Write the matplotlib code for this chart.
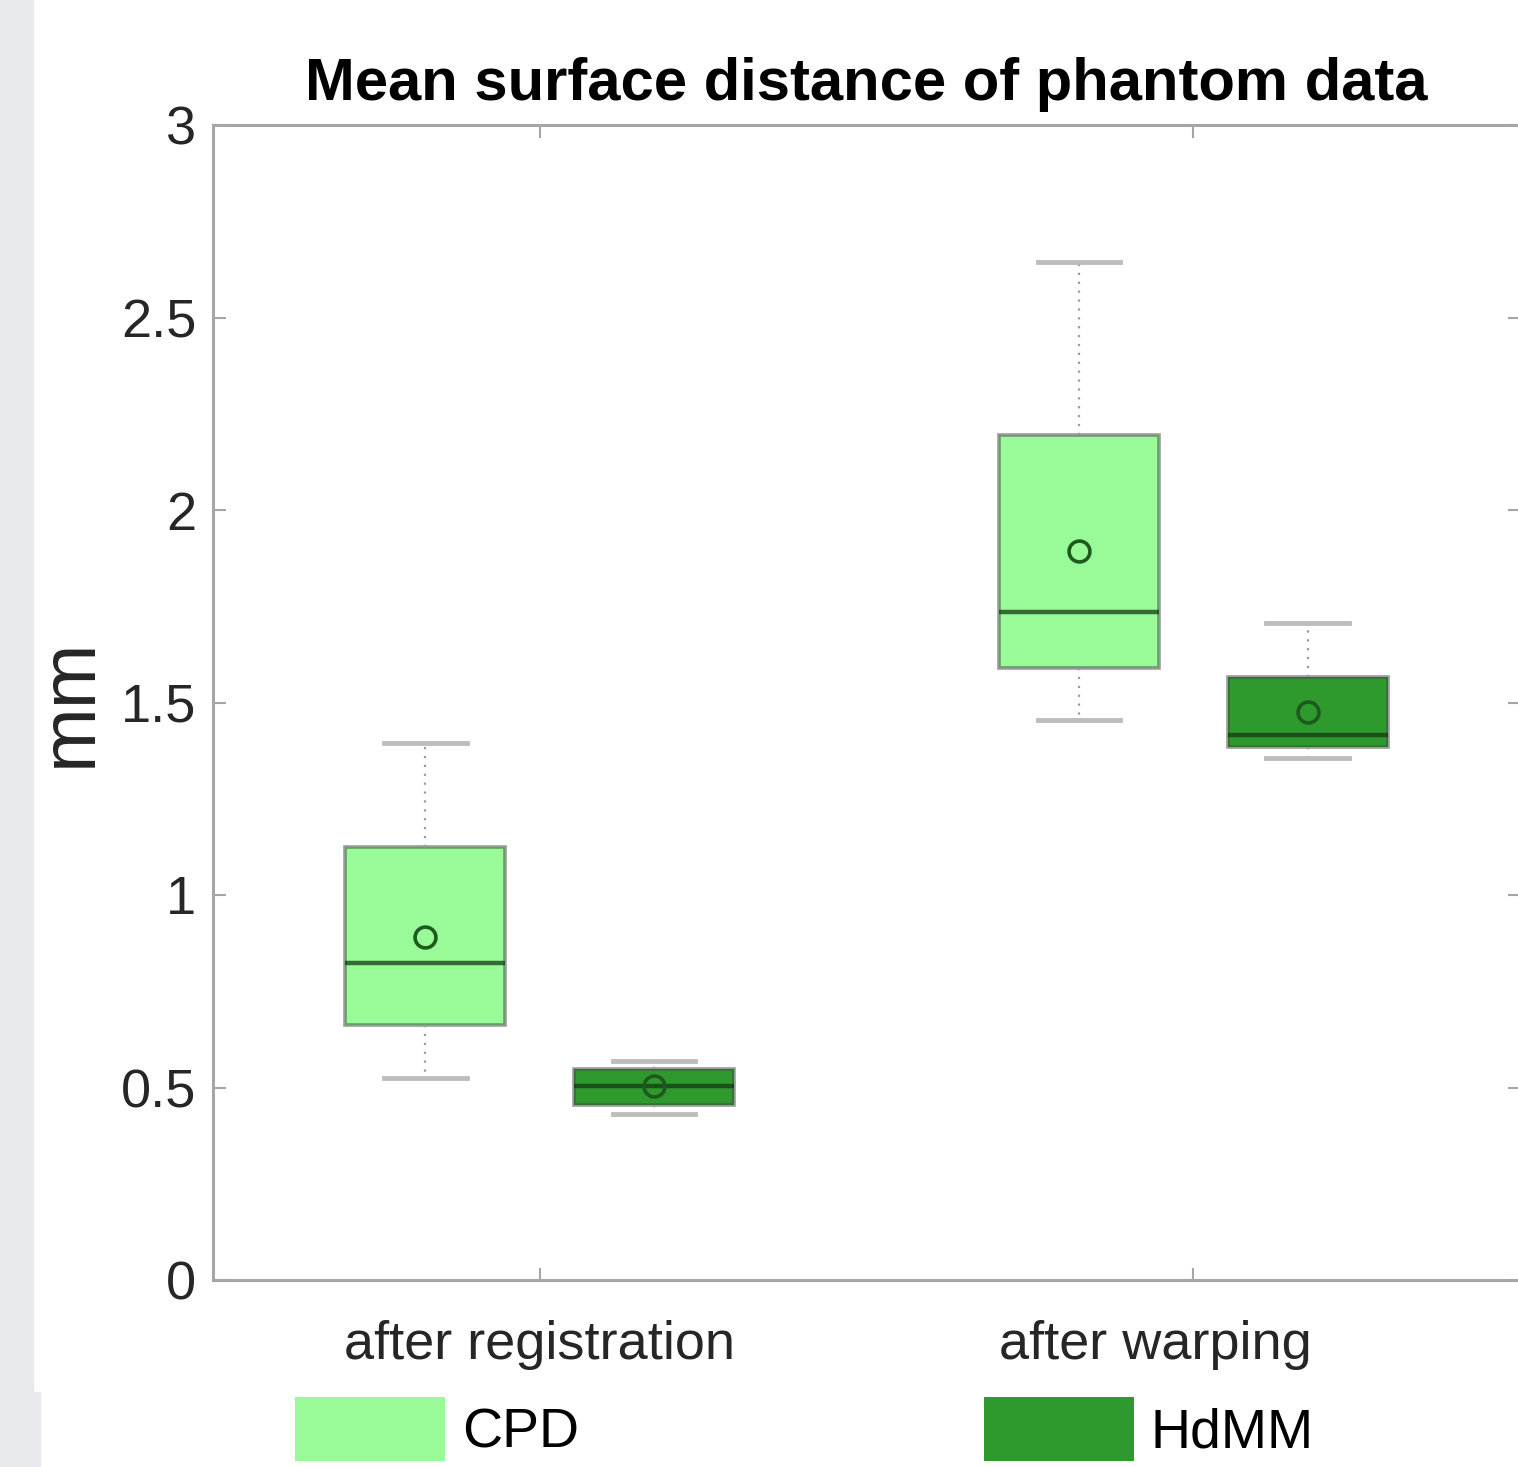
import matplotlib
matplotlib.use("Agg")
import matplotlib.pyplot as plt
from matplotlib.patches import Patch, Rectangle
from matplotlib.transforms import ScaledTranslation
import numpy as np

# summary statistics (mm)
groups = ["after registration", "after warping"]
methods = ["CPD", "HdMM"]
colors = ["#98fb98", "#2e9a2e"]

whislo = {"CPD": [0.525, 1.455], "HdMM": [0.430, 1.356]}
q1 = {"CPD": [0.662, 1.590], "HdMM": [0.455, 1.384]}
med = {"CPD": [0.823, 1.735], "HdMM": [0.504, 1.416]}
q3 = {"CPD": [1.125, 2.195], "HdMM": [0.548, 1.566]}
whishi = {"CPD": [1.395, 2.644], "HdMM": [0.569, 1.706]}
means = {"CPD": [0.891, 1.894], "HdMM": [0.504, 1.475]}

plt.rcParams["font.family"] = ["Liberation Sans", "DejaVu Sans"]

fig = plt.figure(figsize=(15.18, 14.67), dpi=100)
# grey page strip on the left
fig.patches.append(Rectangle((0, 0), 33 / 1518, 1, transform=fig.transFigure,
                             color="#e8eaed", zorder=-10))
fig.patches.append(Rectangle((0, 0), 40 / 1518, 75 / 1467, transform=fig.transFigure,
                             color="#e8eaed", zorder=-10))

ax = fig.add_axes([213 / 1518, 187 / 1467, 1307 / 1518, 1155 / 1467])

offsets = [-0.175, 0.175]
for m, off, c in zip(methods, offsets, colors):
    stats = []
    for i in range(len(groups)):
        stats.append(dict(med=med[m][i], q1=q1[m][i], q3=q3[m][i],
                          whislo=whislo[m][i], whishi=whishi[m][i],
                          mean=means[m][i], fliers=[]))
    pos = np.arange(1, len(groups) + 1) + off
    ax.bxp(stats, positions=pos, widths=0.245, capwidths=0.126,
           showmeans=True, patch_artist=True,
           boxprops=dict(facecolor=c, edgecolor=(0.25, 0.3, 0.25, 0.55), linewidth=2.6),
           medianprops=dict(color=(0.08, 0.22, 0.08, 0.75), linewidth=3.2),
           whiskerprops=dict(color="#9a9a9a", linestyle=(0, (1, 3)), linewidth=1.6),
           capprops=dict(color="#bdbdbd", linewidth=3.5),
           meanprops=dict(marker="o", markerfacecolor="none",
                          markeredgecolor="#1e5a1e", markersize=15,
                          markeredgewidth=2.6))

ax.set_xlim(0.5, 2.5)
ax.set_ylim(0, 3)
ax.set_xticks([1, 2])
ax.set_xticklabels(groups)
yt = [0, 0.5, 1, 1.5, 2, 2.5, 3]
ax.set_yticks(yt)
ax.set_yticklabels(["%g" % v for v in yt])

for s in ax.spines.values():
    s.set_color("#a6a6a6")
    s.set_linewidth(2.2)
ax.tick_params(axis="both", direction="in", length=9, width=1.5, color="#a6a6a6",
               labelcolor="#262626", labelsize=39, top=True, right=True)
ax.tick_params(axis="y", pad=12)
ax.tick_params(axis="x", pad=29)
# second category label sits a bit left of its tick in the reference
lab = ax.get_xticklabels()[1]
lab.set_transform(lab.get_transform() + ScaledTranslation(-0.38, 0, fig.dpi_scale_trans))

ax.set_ylabel("mm", fontsize=56, color="#262626")
ax.yaxis.set_label_coords(-0.081, 0.5)
ax.set_title("Mean surface distance of phantom data", fontsize=43,
             fontweight="bold", color="black", pad=18)

handles = [Patch(facecolor=c, edgecolor="none") for c in colors]
fig.legend(handles, methods, loc="upper left", bbox_to_anchor=(295 / 1518, 70 / 1467),
           ncol=2, frameon=False, fontsize=40, handlelength=2.7, handleheight=1.4,
           handletextpad=0.3, columnspacing=7.3, borderpad=0, borderaxespad=0)

fig.savefig("out.png", dpi=100)
